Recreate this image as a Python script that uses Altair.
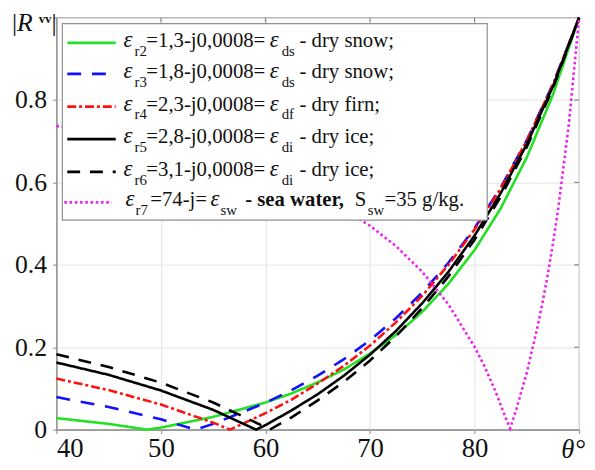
import altair as alt
import pandas as pd

# ---- data ----
names = ["e2", "e3", "e4", "e5", "e6", "e7"]
colors = ["#22e022", "#1010ff", "#ff1010", "#000000", "#000000", "#ee22ee"]
dashes = [[1, 0], [14, 11], [9, 3, 3, 3], [1, 0], [13, 10], [2.6, 2.7]]

theta_e2 = [40, 45, 48.7, 50, 55, 60, 62.5, 65, 67.5, 70, 72.5, 75, 77.5, 80, 82.5, 85, 87.5, 90]
r_e2 = [0.028, 0.014, 0.0, 0.005, 0.031, 0.066, 0.088, 0.115, 0.146, 0.185, 0.230, 0.286, 0.354, 0.436, 0.537, 0.661, 0.813, 1.0]

theta_e3 = [40, 45, 50, 53.3, 55, 60, 62.5, 65, 67.5, 70, 72.5, 75, 77.5, 80, 82.5, 85, 87.5, 90]
r_e3 = [0.079, 0.055, 0.025, 0.0, 0.014, 0.065, 0.096, 0.131, 0.171, 0.217, 0.271, 0.333, 0.405, 0.489, 0.588, 0.703, 0.839, 1.0]

theta_e4 = [40, 45, 50, 55, 56.6, 60, 62.5, 65, 67.5, 70, 72.5, 75, 77.5, 80, 82.5, 85, 87.5, 90]
r_e4 = [0.124, 0.096, 0.061, 0.017, 0.0, 0.040, 0.073, 0.112, 0.155, 0.204, 0.261, 0.325, 0.400, 0.486, 0.585, 0.702, 0.838, 1.0]

theta_e5 = [40, 45, 50, 55, 59.1, 60, 62.5, 65, 67.5, 70, 72.5, 75, 77.5, 80, 82.5, 85, 87.5, 90]
r_e5 = [0.163, 0.133, 0.095, 0.048, 0.0, 0.011, 0.047, 0.086, 0.131, 0.182, 0.240, 0.307, 0.383, 0.471, 0.574, 0.693, 0.833, 1.0]

theta_e6 = [40, 45, 50, 55, 60, 60.4, 62.5, 65, 67.5, 70, 72.5, 75, 77.5, 80, 82.5, 85, 87.5, 90]
r_e6 = [0.183, 0.152, 0.114, 0.066, 0.006, 0.0, 0.030, 0.071, 0.116, 0.168, 0.227, 0.295, 0.372, 0.461, 0.565, 0.686, 0.829, 1.0]

theta_e7 = [40, 45, 50, 55, 60, 65, 70, 72.5, 75, 77.5, 80, 81, 82, 83, 83.4, 84, 85, 86, 86.5, 87, 87.5, 88, 89, 90]
r_e7 = [0.737, 0.718, 0.695, 0.664, 0.624, 0.571, 0.495, 0.445, 0.383, 0.304, 0.201, 0.151, 0.093, 0.027, 0.003, 0.050, 0.139, 0.247, 0.308, 0.376, 0.452, 0.536, 0.737, 1.0]

x_ticks = [40, 50, 60, 70, 80, 90]
y_ticks = [0, 0.2, 0.4, 0.6, 0.8, 1.0]
x_inner_ticks = [50, 60, 70, 80]
y_inner_ticks = [0.2, 0.4, 0.6, 0.8]

legend_sub1 = ["r2", "r3", "r4", "r5", "r6"]
legend_mid = ["=1,3-j0,0008=", "=1,8-j0,0008=", "=2,3-j0,0008=", "=2,8-j0,0008=", "=3,1-j0,0008="]
legend_sub2 = ["ds", "ds", "df", "di", "di"]
legend_tail = ["- dry snow;", "- dry snow;", "- dry firn;", "- dry ice;", "- dry ice;"]

# ---- build table ----
rows = []
for n, th, rv in [("e2", theta_e2, r_e2), ("e3", theta_e3, r_e3), ("e4", theta_e4, r_e4),
                  ("e5", theta_e5, r_e5), ("e6", theta_e6, r_e6), ("e7", theta_e7, r_e7)]:
    for t, r in zip(th, rv):
        rows.append({"series": n, "theta": t, "R": r})
df = pd.DataFrame(rows)

SERIF = "Liberation Serif"
W, H = 529, 417

xscale = alt.Scale(domain=[40, 90], nice=False, zero=False)
yscale = alt.Scale(domain=[0, 1], nice=False)

lines = alt.Chart(df).mark_line(strokeWidth=2.6).encode(
    x=alt.X("theta:Q", scale=xscale,
            axis=alt.Axis(values=x_ticks, labelExpr="datum.value == 90 ? '' : datum.label",
                          title=None, grid=True, labelFontSize=27, labelPadding=2)),
    y=alt.Y("R:Q", scale=yscale,
            axis=alt.Axis(values=y_ticks,
                          labelExpr="datum.value >= 1 ? '' : (datum.value == 0 ? '0' : format(datum.value, '.1f'))",
                          title=None, grid=True, labelFontSize=26, labelPadding=6)),
    color=alt.Color("series:N", scale=alt.Scale(domain=names, range=colors), legend=None),
    strokeDash=alt.StrokeDash("series:N", scale=alt.Scale(domain=names, range=dashes), legend=None),
    order=alt.Order("theta:Q"),
)

# inner ticks on top and right edges (box style)
top_ticks = alt.Chart(pd.DataFrame({"v": x_inner_ticks})).mark_rule(color="#8a8a8a", strokeWidth=1.2).encode(
    x=alt.X("v:Q", scale=xscale), y=alt.value(0), y2=alt.value(5))
right_ticks = alt.Chart(pd.DataFrame({"w": y_inner_ticks})).mark_rule(color="#8a8a8a", strokeWidth=1.2).encode(
    y=alt.Y("w:Q", scale=yscale), x=alt.value(W - 5), x2=alt.value(W))

dummy = pd.DataFrame({"a": [0]})
layers = [lines, top_ticks, right_ticks]

# legend box
layers.append(alt.Chart(dummy).mark_rect(fill="white", stroke="#909090", strokeWidth=1.2).encode(
    x=alt.value(6), x2=alt.value(436), y=alt.value(6), y2=alt.value(205)))

row_c = [23.5, 55, 88, 121, 154, 185]


def txt(s, x, y, size=21, style="normal", weight="normal"):
    return alt.Chart(dummy).mark_text(
        text=s, font=SERIF, fontSize=size, fontStyle=style, fontWeight=weight,
        align="left", baseline="middle", color="#111111").encode(
        x=alt.value(x), y=alt.value(y))


for i in range(6):
    yc = row_c[i]
    x0, x1 = (11, 60) if i < 5 else (8, 56)
    layers.append(alt.Chart(dummy).mark_rule(
        color=colors[i], strokeDash=dashes[i], strokeWidth=2.8).encode(
        x=alt.value(x0), x2=alt.value(x1), y=alt.value(yc + 2)))
    if i < 5:
        layers += [
            txt("ε", 68, yc - 1, 23, "italic"),
            txt(legend_sub1[i], 79, yc + 10, 15),
            txt(legend_mid[i], 91, yc),
            txt("ε", 216, yc - 1, 23, "italic"),
            txt(legend_sub2[i], 228, yc + 10, 15),
            txt(legend_tail[i], 246, yc),
        ]
    else:
        layers += [
            txt("ε", 70, yc - 1, 23, "italic"),
            txt("r7", 80, yc + 10, 15),
            txt("=74-j=", 95, yc),
            txt("ε", 156, yc - 1, 23, "italic"),
            txt("sw", 166, yc + 10, 15),
            txt("- sea water,", 191, yc, 21, "normal", "bold"),
            txt("S", 302, yc),
            txt("sw", 315, yc + 10, 15),
            txt("=35 g/kg.", 332, yc),
        ]

# axis titles
layers += [
    txt("|", -45, 6, 26),
    txt("R", -40, 6, 26, "italic"),
    txt("vv", -18, 1, 13, "normal", "bold"),
    txt("|", -5, 6, 26),
    txt("θ°", 511, H + 21, 27, "italic"),
]

chart = alt.layer(*layers).properties(
    width=W, height=H,
    padding={"left": 49, "top": 7, "right": 8, "bottom": 32},
    autosize=alt.AutoSizeParams(type="none"),
).configure_view(stroke="#8a8a8a", strokeWidth=1.2).configure_axis(
    labelFont=SERIF, labelColor="#111111", domainColor="#8a8a8a", tickColor="#8a8a8a",
    tickSize=4, gridColor="#e4e4e4", gridWidth=1, domainWidth=1.2,
)

chart.save("out.html", embed_options={"renderer": "svg", "actions": False})
